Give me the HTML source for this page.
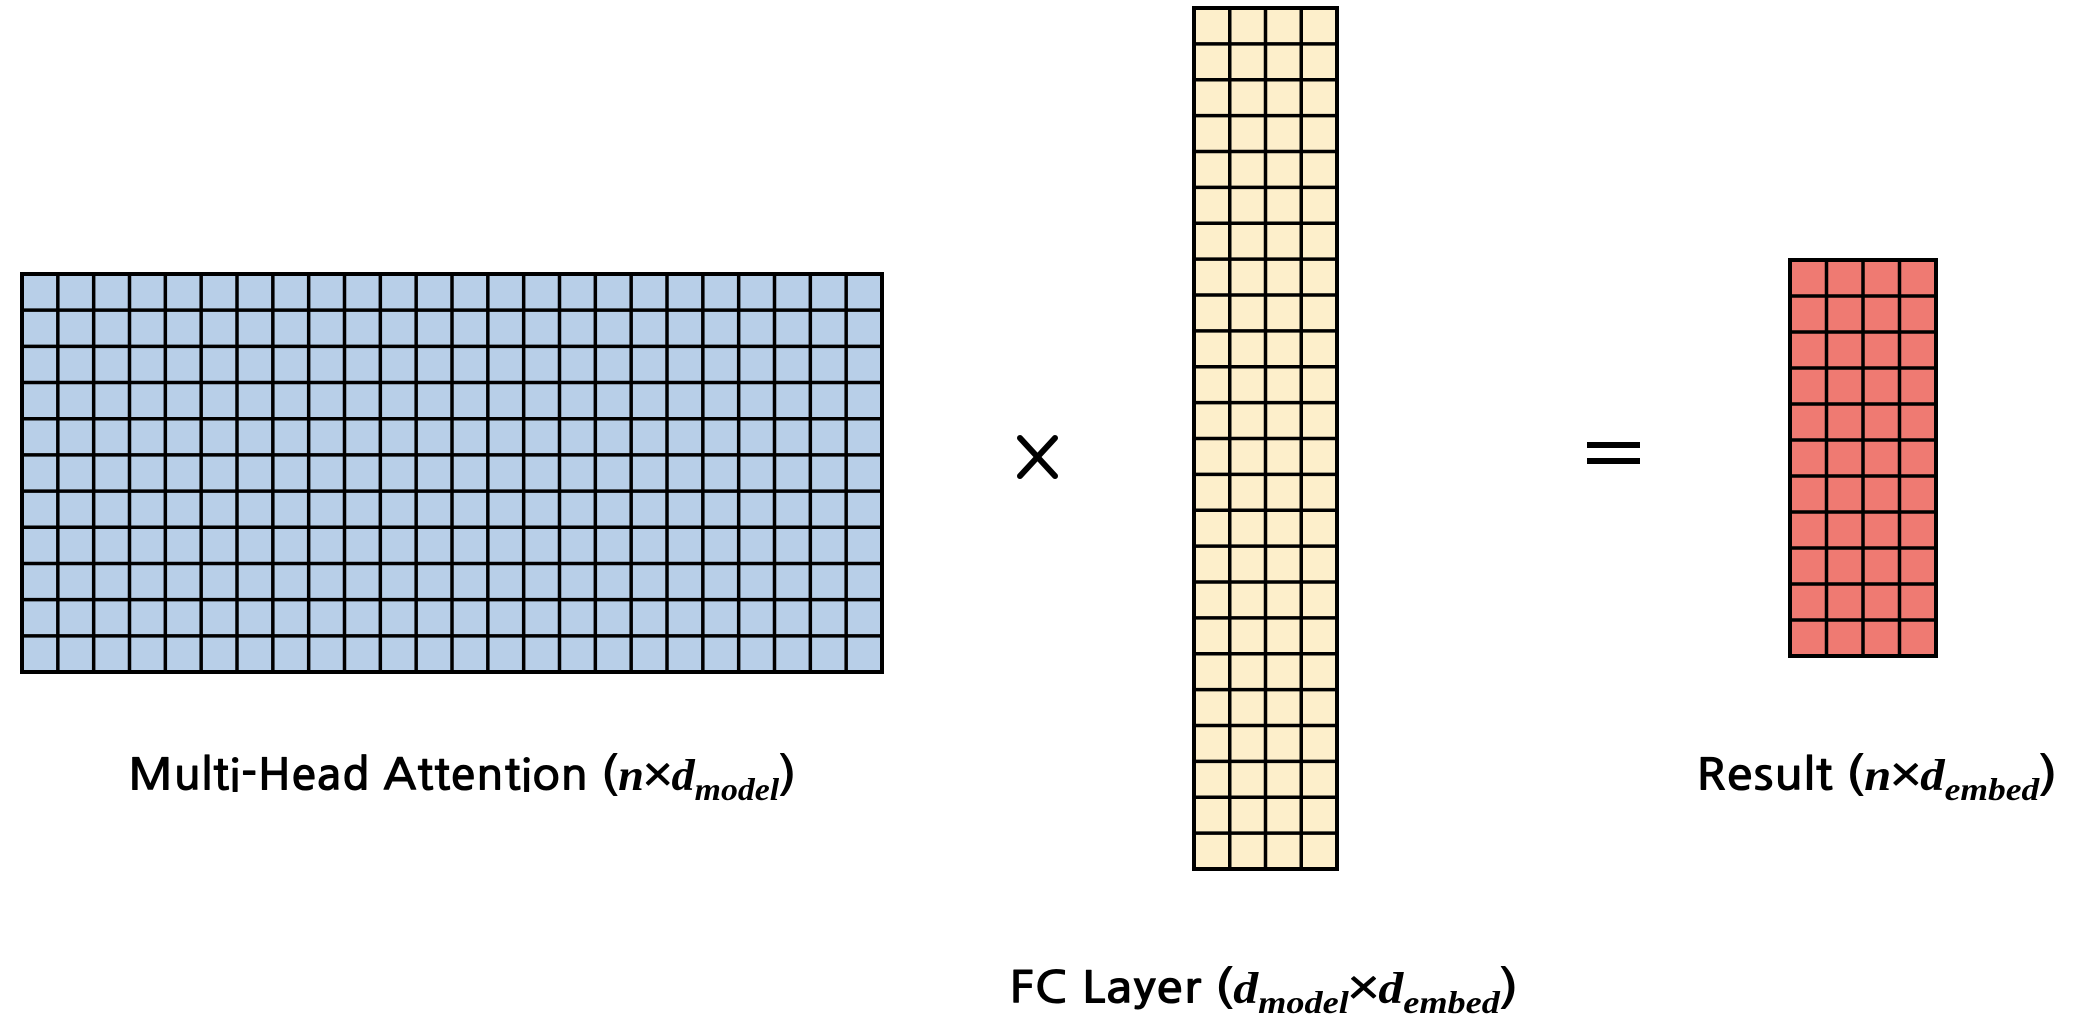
<!DOCTYPE html>
<html><head><meta charset="utf-8"><style>
html,body{margin:0;padding:0;background:#fff;}
svg{display:block;}
.lbl{font-family:"NanumGothic","Liberation Sans",sans-serif;font-size:44px;fill:#000;font-weight:bold;}
.m{font-family:"Liberation Serif",serif;font-style:italic;font-weight:bold;}
.s{font-family:"Liberation Serif",serif;font-style:italic;font-weight:bold;font-size:32px;}
</style></head><body>
<svg id="fig" width="2074" height="1030" viewBox="0 0 2074 1030">
<g id="grids"></g>
<g stroke="#000" stroke-width="6" stroke-linecap="round">
<line x1="1020" y1="438" x2="1055" y2="476"/><line x1="1055" y1="438" x2="1020" y2="476"/>
</g>
<g fill="#000">
<rect x="1587" y="442" width="53" height="6"/><rect x="1587" y="458" width="53" height="6"/>
</g>
<text class="lbl" x="128" y="790" textLength="668" lengthAdjust="spacingAndGlyphs">Multi-Head Attention (<tspan class="m">n</tspan>×<tspan class="m">d</tspan><tspan class="s" dy="10">model</tspan><tspan dy="-10">)</tspan></text>
<text class="lbl" x="1009" y="1003" textLength="509" lengthAdjust="spacingAndGlyphs">FC Layer (<tspan class="m">d</tspan><tspan class="s" dy="10">model</tspan><tspan dy="-10">×</tspan><tspan class="m">d</tspan><tspan class="s" dy="10">embed</tspan><tspan dy="-10">)</tspan></text>
<text class="lbl" x="1696" y="790" textLength="361" lengthAdjust="spacingAndGlyphs">Result (<tspan class="m">n</tspan>×<tspan class="m">d</tspan><tspan class="s" dy="10">embed</tspan><tspan dy="-10">)</tspan></text>
</svg>
<script>
const matrixNames = ['multi-head-attention-matrix','fc-layer-matrix','result-matrix'];
const matrixCols = [24, 4, 4];
const matrixRows = [11, 24, 11];
const matrixColors = ['#b8cfe8','#fdefcb','#ef7a72'];
const boxes = [[22,274,882,672],[1194,8,1337,869],[1790,260,1936,656]];
const NS = 'http://www.w3.org/2000/svg';
const g = document.getElementById('grids');
for (let k = 0; k < matrixNames.length; k++) {
  const [x0,y0,x1,y1] = boxes[k];
  const cw = (x1-x0)/matrixCols[k], ch = (y1-y0)/matrixRows[k];
  const grp = document.createElementNS(NS,'g');
  
  
  const bg = document.createElementNS(NS,'rect');
  bg.setAttribute('x',x0);bg.setAttribute('y',y0);bg.setAttribute('width',x1-x0);bg.setAttribute('height',y1-y0);
  bg.setAttribute('fill',matrixColors[k]);bg.setAttribute('stroke','#000');bg.setAttribute('stroke-width','4');
  
  
  grp.appendChild(bg);
  for (let i = 1; i < matrixCols[k]; i++) {
    const l = document.createElementNS(NS,'line');
    const x = x0 + i*cw;
    l.setAttribute('x1',x);l.setAttribute('x2',x);l.setAttribute('y1',y0);l.setAttribute('y2',y1);
    l.setAttribute('stroke','#000');l.setAttribute('stroke-width','3.5');
    
    
    grp.appendChild(l);
  }
  for (let j = 1; j < matrixRows[k]; j++) {
    const l = document.createElementNS(NS,'line');
    const y = y0 + j*ch;
    l.setAttribute('x1',x0);l.setAttribute('x2',x1);l.setAttribute('y1',y);l.setAttribute('y2',y);
    l.setAttribute('stroke','#000');l.setAttribute('stroke-width','3.5');
    
    
    grp.appendChild(l);
  }
  g.appendChild(grp);
}
</script>
</body></html>
